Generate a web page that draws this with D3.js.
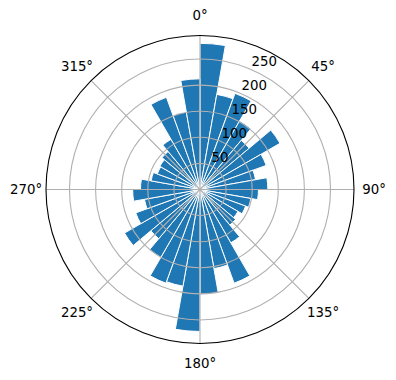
<!DOCTYPE html>
<html>
<head>
<meta charset="utf-8">
<script src="https://cdn.jsdelivr.net/npm/d3@7"></script>
<style>
  body { margin: 0; background: #fff; }
  text { font-family: "DejaVu Sans", sans-serif; font-size: 13.33px; fill: #000; }
</style>
</head>
<body>
<svg id="chart" width="396" height="380"></svg>
<script>
// bar heights, 36 bins of 10 degrees, clockwise from north
var counts = [280, 185, 196, 152, 123, 177, 135, 108, 130,
              112, 99, 93, 84, 89, 118, 191, 154, 201,
              272, 188, 191, 150, 123, 167, 131, 108, 129,
              114, 95, 87, 89, 95, 111, 188, 151, 212]
var rTicks = [50, 100, 150, 200, 250]
var thetaTicks = [0, 45, 90, 135, 180, 225, 270, 315]
var rMax = 295

var svg = d3.select("#chart")
var cx = 200, cy = 189.5, R = 154

var g = svg.append("g").attr("transform", `translate(${cx},${cy})`)

var rScale = d3.scaleLinear().domain([0, rMax]).range([0, R])
var aScale = d3.scaleLinear().domain([0, counts.length]).range([0, 2 * Math.PI])
var deg = d => d * Math.PI / 180

var arc = d3.arc()
    .innerRadius(0)
    .outerRadius(d => rScale(d.v))
    .startAngle(d => aScale(d.i))
    .endAngle(d => aScale(d.i + 1))

// bars
g.selectAll(".bar")
    .data(counts.map((v, i) => ({v: v, i: i})))
    .join("path")
    .attr("class", "bar")
    .attr("d", arc)
    .attr("fill", "#1f77b4")
    .attr("stroke", "#fff")
    .attr("stroke-width", 1)

// grid on top of bars
g.selectAll(".rgrid")
    .data(rTicks)
    .join("circle")
    .attr("class", "rgrid")
    .attr("r", d => rScale(d))
    .attr("fill", "none")
    .attr("stroke", "#b0b0b0")
    .attr("stroke-width", 1.1)

g.selectAll(".tgrid")
    .data(thetaTicks)
    .join("line")
    .attr("class", "tgrid")
    .attr("x1", 0).attr("y1", 0)
    .attr("x2", d => R * Math.sin(deg(d)))
    .attr("y2", d => -R * Math.cos(deg(d)))
    .attr("stroke", "#b0b0b0")
    .attr("stroke-width", 1.1)

// outer frame
g.append("circle")
    .attr("r", R)
    .attr("fill", "none")
    .attr("stroke", "#000")
    .attr("stroke-width", 1.1)

// angle labels
g.selectAll(".tlabel")
    .data(thetaTicks)
    .join("text")
    .attr("class", "tlabel")
    .attr("x", d => (R + 20) * Math.sin(deg(d)))
    .attr("y", d => -(R + 20) * Math.cos(deg(d)))
    .attr("text-anchor", "middle")
    .attr("dominant-baseline", "central")
    .text(d => d + "°")

// radial labels at 22.5 deg
var la = deg(22.5)
g.selectAll(".rlabel")
    .data(rTicks)
    .join("text")
    .attr("class", "rlabel")
    .attr("x", d => rScale(d) * Math.sin(la) + 1.5)
    .attr("y", d => -rScale(d) * Math.cos(la) - 3)
    .attr("text-anchor", "start")
    .text(d => d)
</script>
</body>
</html>
